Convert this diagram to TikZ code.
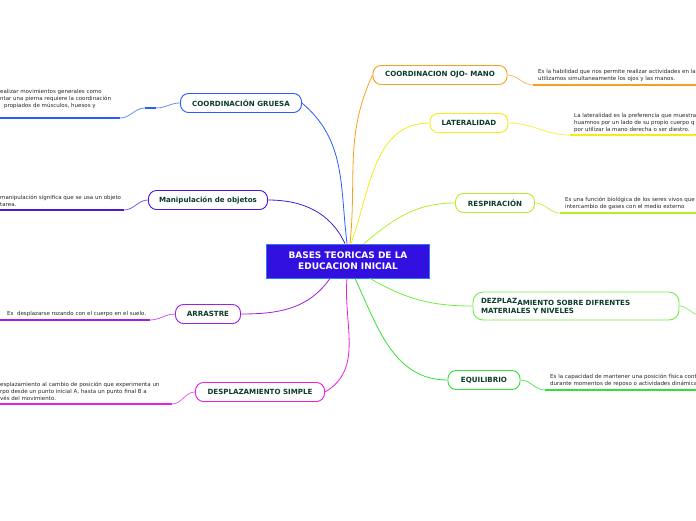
\documentclass[tikz,border=0pt]{standalone}
\usepackage{fontspec}
\setmainfont{DejaVu Sans}
\usetikzlibrary{positioning}

\definecolor{txtgreen}{HTML}{0B3B2C}
\definecolor{rootfill}{HTML}{3210E0}
\definecolor{rootline}{HTML}{2A7CF0}
\definecolor{cGru}{HTML}{2A5CFF}
\definecolor{cMan}{HTML}{4A18D8}
\definecolor{cArr}{HTML}{A21FE0}
\definecolor{cDes}{HTML}{E81EE0}
\definecolor{cOjo}{HTML}{F5A020}
\definecolor{cLat}{HTML}{F2EC18}
\definecolor{cRes}{HTML}{B4EE28}
\definecolor{cDez}{HTML}{70EE40}
\definecolor{cEqu}{HTML}{34E034}

\begin{document}
\begin{tikzpicture}[
      x=1pt, y=-1pt,
      every node/.style={font=\fontsize{5.5}{7}\selectfont},
      topic/.style={draw, rounded corners=8pt, fill=white, line width=0.9pt,
                    minimum height=19pt, inner sep=2pt, align=left,
                    text=txtgreen, font=\fontsize{7.1}{8.8}\selectfont\bfseries},
      desc/.style={anchor=west, align=left, inner sep=0pt, text=black!85,
                   font=\fontsize{5.5}{7}\selectfont},
      link/.style={line width=0.8pt},
      ul/.style={line width=1.6pt},
    ]
    \clip (0,0) rectangle (696,520);

    %% Central node
    \node[draw=rootline, fill=rootfill, line width=0.8pt, text=white, align=center,
          minimum width=163pt, minimum height=34pt, inner sep=2pt,
          font=\fontsize{9}{11}\selectfont\bfseries] (root) at (348,261)
          {BASES TEORICAS DE LA\\EDUCACION INICIAL};

    %% Left topics
    \node[topic, draw=cGru, minimum width=121pt] (gruesa)  at (241,103) {COORDINACIÓN GRUESA};
    \node[topic, draw=cMan, minimum width=119pt] (manip)   at (208,200) {Manipulación de objetos};
    \node[topic, draw=cArr, minimum width=65pt]  (arrastre) at (208,314) {ARRASTRE};
    \node[topic, draw=cDes, minimum width=129pt] (simple)  at (260,392) {DESPLAZAMIENTO SIMPLE};

    %% Right topics
    \node[topic, draw=cOjo, minimum width=134pt] (ojo)     at (440,75)  {COORDINACION OJO- MANO};
    \node[topic, draw=cLat, minimum width=78pt]  (lateral) at (469,123) {LATERALIDAD};
    \node[topic, draw=cRes, minimum width=79pt]  (resp)    at (495,203) {RESPIRACIÓN};
    \node[topic, draw=cDez, minimum width=206pt, minimum height=28pt, text width=190pt,
          rounded corners=10pt] (dezpl) at (576,306)
          {\raisebox{2pt}{DEZPLAZ}AMIENTO SOBRE DIFRENTES\\MATERIALES Y NIVELES};
    \node[topic, draw=cEqu, minimum width=72pt]  (equil)   at (484,380) {EQUILIBRIO};

    %% Descriptions (left)
    \node[desc] (gruesa-t) at (0,99)
      {ealizar movimientos generales como\\ntar una pierna requiere la coordinación\\\hspace*{4pt}propiados de músculos, huesos y};
    \node[desc] (manip-t) at (0,200.5)
      {manipulación significa que se usa un objeto\\tarea.};
    \node[desc] (arrastre-t) at (7,314) {Es\ \ desplazarse rozando con el cuerpo en el suelo.};
    \node[desc] (simple-t) at (0,391)
      {esplazamiento al cambio de posición que experimenta un\\rpo desde un punto inicial A, hasta un punto final B a\\vés del movimiento.};

    %% Descriptions (right)
    \node[desc] (ojo-t) at (538,75.5)
      {Es la habilidad que nos permite realizar actividades en la\\utilizamos simultaneamente los ojos y las manos.};
    \node[desc] (lateral-t) at (574,122.5)
      {La lateralidad es la preferencia que muestra\\huamnos por un lado de su propio cuerpo q\\por utilizar la mano derecha o ser diestro.};
    \node[desc] (resp-t) at (565,203.5)
      {Es una función biológica de los seres vivos que\\intercambio de gases con el medio externo};
    \node[desc] (equil-t) at (550,380.5)
      {Es la capacidad de mantener una posición física cont\\durante momentos de reposo o actividades dinámica};

    %% Underline end points
    \coordinate (gruesa-a) at (0,118);    \coordinate (gruesa-b) at (120,118);
    \coordinate (gruesa-c) at (145,108);  \coordinate (gruesa-d) at (156,108);
    \coordinate (manip-a) at (0,210);     \coordinate (manip-b) at (124,210);
    \coordinate (arrastre-a) at (0,320);  \coordinate (arrastre-b) at (150,320);
    \coordinate (simple-a) at (0,404);    \coordinate (simple-b) at (172,404);
    \coordinate (ojo-a) at (533,85);      \coordinate (ojo-b) at (696,85);
    \coordinate (lateral-a) at (570,135); \coordinate (lateral-b) at (696,135);
    \coordinate (resp-a) at (560,213);    \coordinate (resp-b) at (696,213);
    \coordinate (dezpl-a) at (700,315);
    \coordinate (equil-a) at (545,390);   \coordinate (equil-b) at (696,390);

    %% Branches from the centre
    \draw[link, cGru] ([xshift=-1pt]root.north) to[out=97, in=-40] (gruesa.east);
    \draw[link, cMan] ([xshift=-3pt]root.north) to[out=115, in=0] (manip.east);
    \draw[link, cArr] ([xshift=-18pt]root.south) to[out=-125, in=0] (arrastre.east);
    \draw[link, cDes] ([xshift=-1pt]root.south) to[out=-95, in=30] (simple.east);
    \draw[link, cOjo] ([xshift=2pt]root.north) to[out=84, in=-115] (ojo.west);
    \draw[link, cLat] ([xshift=3pt]root.north) to[out=70, in=180] (lateral.west);
    \draw[link, cRes] ([xshift=16pt]root.north) to[out=40, in=180] (resp.west);
    \draw[link, cDez] ([xshift=22pt]root.south) to[out=-30, in=180] (dezpl.west);
    \draw[link, cEqu] ([xshift=7pt]root.south) to[out=-65, in=180] (equil.west);

    %% Underlines (left)
    \draw[ul, cGru] (gruesa-a) -- (gruesa-b);
    \draw[link, cGru!70] (gruesa-b) to[out=0, in=180] (gruesa-c);
    \draw[ul, cGru] (gruesa-c) -- (gruesa-d);
    \draw[link, cGru!70] (gruesa-d) to[out=0, in=180] (gruesa.west);
    \draw[ul, cMan] (manip-a) -- (manip-b);
    \draw[link, cMan!70] (manip-b) to[out=0, in=180] (manip.west);
    \draw[ul, cArr] (arrastre-a) -- (arrastre-b);
    \draw[link, cArr!70] (arrastre-b) to[out=0, in=180] (arrastre.west);
    \draw[ul, cDes] (simple-a) -- (simple-b);
    \draw[link, cDes!70] (simple-b) to[out=0, in=180] (simple.west);

    %% Underlines (right)
    \draw[link, cOjo!70] (ojo.east) to[out=0, in=180] (ojo-a);
    \draw[ul, cOjo] (ojo-a) -- (ojo-b);
    \draw[link, cLat!80] (lateral.east) to[out=0, in=180] (lateral-a);
    \draw[ul, cLat] (lateral-a) -- (lateral-b);
    \draw[link, cRes!80] (resp.east) to[out=0, in=180] (resp-a);
    \draw[ul, cRes] (resp-a) -- (resp-b);
    \draw[link, cDez!80] (dezpl.east) to[out=0, in=180] (dezpl-a);
    \draw[link, cEqu!80] (equil.east) to[out=0, in=180] (equil-a);
    \draw[ul, cEqu] (equil-a) -- (equil-b);
  \end{tikzpicture}
\end{document}
